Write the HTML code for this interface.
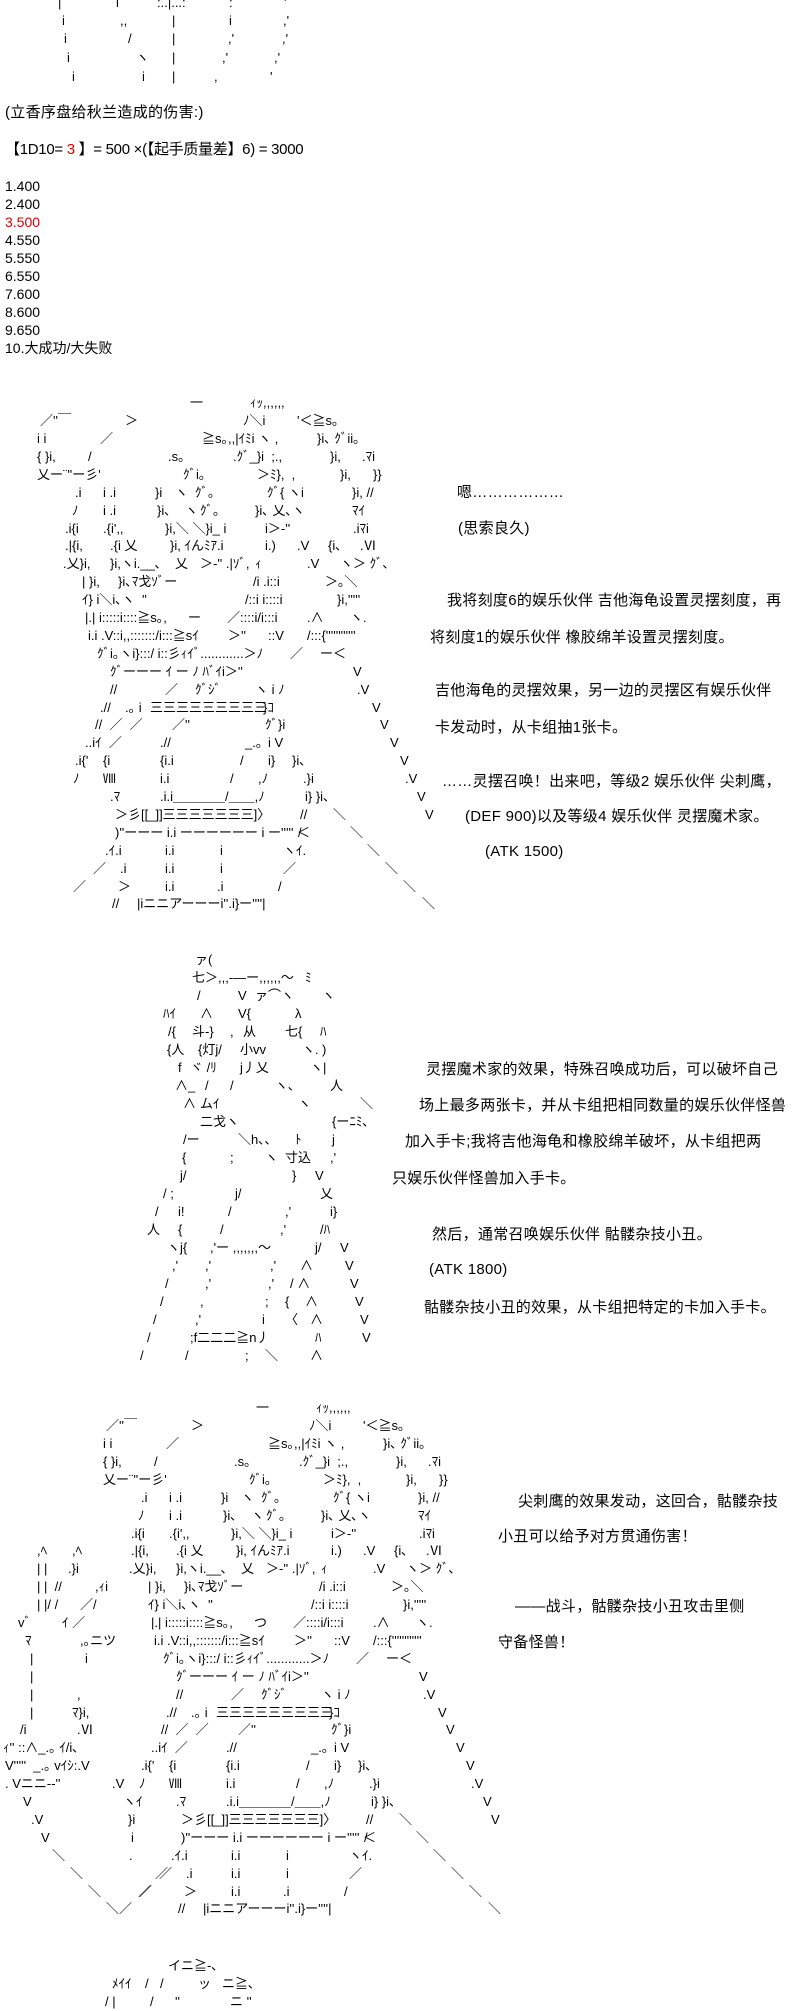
<!DOCTYPE html>
<html><head><meta charset="utf-8">
<style>
html,body{margin:0;padding:0;background:#fff;}
body{width:800px;height:2000px;position:relative;overflow:hidden;color:#000;}
.t{position:absolute;font-family:"Liberation Sans","Noto Sans CJK SC",sans-serif;font-size:15px;line-height:18px;white-space:pre;letter-spacing:0.3px;}
.n{position:absolute;left:5px;font-family:"Liberation Sans","Noto Sans CJK SC",sans-serif;font-size:14px;line-height:18px;white-space:pre;}
.aa{position:absolute;left:0;width:800px;}
.aa div{position:absolute;left:0;height:18px;width:800px;}
.aa span{position:absolute;top:0;white-space:pre;font-family:"Liberation Sans","Noto Sans CJK JP",sans-serif;font-size:13px;line-height:18px;color:#000;}
</style></head><body>

<!-- top AA remnant -->
<div class="aa" style="top:-6px">
<div style="top:0"><span style="left:58px">|</span><span style="left:116px">i</span><span style="left:157px">:..|...:</span><span style="left:229px">:</span><span style="left:284px">'</span></div>
<div style="top:18px"><span style="left:62px">i</span><span style="left:120px">,,</span><span style="left:172px">|</span><span style="left:229px">i</span><span style="left:283px">,'</span></div>
<div style="top:36px"><span style="left:64px">i</span><span style="left:128px">/</span><span style="left:172px">|</span><span style="left:228px">,'</span><span style="left:282px">,'</span></div>
<div style="top:55px"><span style="left:67px">i</span><span style="left:136px">ヽ</span><span style="left:172px">|</span><span style="left:222px">,'</span><span style="left:274px">,'</span></div>
<div style="top:74px"><span style="left:72px">i</span><span style="left:142px">i</span><span style="left:172px">|</span><span style="left:214px">,</span><span style="left:270px">'</span></div>
</div>

<div class="t" style="left:5px;top:104px">(立香序盘给秋兰造成的伤害:)</div>
<div class="t" style="left:5px;top:141px;letter-spacing:-0.3px">【1D10= <span style="color:#d00">3</span> 】= 500 ×(【起手质量差】6) = 3000</div>
<div class="n" style="top:177px">1.400</div>
<div class="n" style="top:195px">2.400</div>
<div class="n" style="top:213px;color:#d00">3.500</div>
<div class="n" style="top:231px">4.550</div>
<div class="n" style="top:249px">5.550</div>
<div class="n" style="top:267px">6.550</div>
<div class="n" style="top:285px">7.600</div>
<div class="n" style="top:303px">8.600</div>
<div class="n" style="top:321px">9.650</div>
<div class="n" style="top:339px">10.大成功/大失败</div>

<!-- Section 1 AA -->
<div class="aa" style="top:394px;left:0">
<div style="top:0px"><span style="left:190px">一</span><span style="left:250px">ｨｯ,,,,,,</span></div>
<div style="top:18px"><span style="left:40px">／''￣</span><span style="left:125px">＞</span><span style="left:243px">ﾉ＼i</span><span style="left:297px">'＜≧s｡</span></div>
<div style="top:36px"><span style="left:37px">i i</span><span style="left:100px">／</span><span style="left:202px">≧s｡,,|ｲﾐi ヽ ,</span><span style="left:317px">}i､ ｸﾞii｡</span></div>
<div style="top:54px"><span style="left:37px">{ }i,</span><span style="left:88px">/</span><span style="left:168px">.s｡</span><span style="left:233px">.ｸﾞ_}i  ;.,</span><span style="left:330px">}i,</span><span style="left:362px">.ﾏi</span></div>
<div style="top:72px"><span style="left:37px">乂ー¨''ー彡'</span><span style="left:183px">ｸﾞi｡</span><span style="left:257px">＞ﾐ},  ,</span><span style="left:340px">}i,</span><span style="left:373px">}}</span></div>
<div style="top:90px"><span style="left:75px">.i</span><span style="left:103px">i .i</span><span style="left:155px">}i</span><span style="left:175px">ヽ</span><span style="left:195px">ｸﾞ｡</span><span style="left:267px">ｸﾞ{ ヽi</span><span style="left:352px">}i, //</span></div>
<div style="top:108px"><span style="left:72px">ﾉ</span><span style="left:103px">i .i</span><span style="left:157px">}i､</span><span style="left:185px">ヽ</span><span style="left:200px">ｸﾞ｡</span><span style="left:255px">}i､ 乂､ヽ</span><span style="left:352px">ﾏｲ</span></div>
<div style="top:126px"><span style="left:65px">.i{i</span><span style="left:103px">.{i',,</span><span style="left:165px">}i,＼ ＼}i_ i</span><span style="left:265px">i＞-''</span><span style="left:353px">.iﾏi</span></div>
<div style="top:143px"><span style="left:65px">.|{i,</span><span style="left:110px">.{i 乂</span><span style="left:170px">}i, ｲんﾐｱ.i</span><span style="left:265px">i.)</span><span style="left:297px">.V</span><span style="left:328px">{i､</span><span style="left:360px">.Ⅵ</span></div>
<div style="top:161px"><span style="left:63px">.乂}i,</span><span style="left:110px">}i,ヽi.__､</span><span style="left:175px">乂</span><span style="left:200px">＞-'' .|ｿﾞ,</span><span style="left:255px">ｨ</span><span style="left:307px">.V</span><span style="left:340px">ヽ＞ ｸﾞ､</span></div>
<div style="top:179px"><span style="left:82px">| }i,</span><span style="left:118px">}i､ﾏ戈ｿﾞー</span><span style="left:253px">/i .i::i</span><span style="left:325px">＞｡＼</span></div>
<div style="top:197px"><span style="left:82px">ｲ} i＼i､ヽ  ''</span><span style="left:245px">/::i i::::i</span><span style="left:337px">}i,'''''</span></div>
<div style="top:215px"><span style="left:85px">|.| i:::::i::::≧s｡,</span><span style="left:188px">ー</span><span style="left:227px">／::::i/i:::i</span><span style="left:307px">.∧</span><span style="left:350px">ヽ.</span></div>
<div style="top:233px"><span style="left:88px">i.i .V::i,,:::::::/i:::≧sｲ</span><span style="left:228px">＞''</span><span style="left:268px">::V</span><span style="left:307px">/:::{''''''''''''</span></div>
<div style="top:251px"><span style="left:97px">ｸﾞi｡ヽi}:::/ i::彡ｨｲﾞ............＞ﾉ</span><span style="left:290px">／</span><span style="left:320px">ー＜</span></div>
<div style="top:269px"><span style="left:110px">ｸﾞーーー ｲ ー ﾉ ﾊﾞｲi＞''</span><span style="left:353px">V</span></div>
<div style="top:287px"><span style="left:110px">//</span><span style="left:165px">／</span><span style="left:195px">ｸﾞｼﾞ</span><span style="left:255px">ヽ i ﾉ</span><span style="left:357px">.V</span></div>
<div style="top:305px"><span style="left:100px">.//</span><span style="left:125px">.｡ i</span><span style="left:150px">三三三三三三三三三</span><span style="left:263px">}ｺ</span><span style="left:372px">V</span></div>
<div style="top:322px"><span style="left:95px">//  ／  ／</span><span style="left:172px">／''</span><span style="left:265px">ｸﾞ}i</span><span style="left:380px">V</span></div>
<div style="top:340px"><span style="left:85px">..iｲ  ／</span><span style="left:160px">.//</span><span style="left:245px">_.｡</span><span style="left:268px">i V</span><span style="left:390px">V</span></div>
<div style="top:358px"><span style="left:75px">.i{'</span><span style="left:103px">{i</span><span style="left:160px">{i.i</span><span style="left:240px">/</span><span style="left:268px">i}</span><span style="left:292px">}i､</span><span style="left:400px">V</span></div>
<div style="top:376px"><span style="left:73px">ﾉ</span><span style="left:103px">Ⅷ</span><span style="left:160px">i.i</span><span style="left:230px">/</span><span style="left:258px">,ﾉ</span><span style="left:303px">.}i</span><span style="left:405px">.V</span></div>
<div style="top:394px"><span style="left:110px">.ﾏ</span><span style="left:160px">.i.i＿＿＿＿/＿＿,ﾉ</span><span style="left:305px">i} }i､</span><span style="left:417px">V</span></div>
<div style="top:412px"><span style="left:115px">＞彡[[_]]三三三三三三三]〉</span><span style="left:300px">//</span><span style="left:333px">＼</span><span style="left:425px">V</span></div>
<div style="top:430px"><span style="left:115px">)''ーーー i.i ーーーーーー i ー''''' ＜</span><span style="left:298px">/</span><span style="left:350px">＼</span></div>
<div style="top:448px"><span style="left:105px">.ｲ.i</span><span style="left:165px">i.i</span><span style="left:220px">i</span><span style="left:283px">ヽｲ.</span><span style="left:367px">＼</span></div>
<div style="top:466px"><span style="left:93px">／</span><span style="left:120px">.i</span><span style="left:165px">i.i</span><span style="left:220px">i</span><span style="left:283px">／</span><span style="left:385px">＼</span></div>
<div style="top:484px"><span style="left:73px">／</span><span style="left:118px">＞</span><span style="left:165px">i.i</span><span style="left:217px">.i</span><span style="left:278px">/</span><span style="left:403px">＼</span></div>
<div style="top:501px"><span style="left:112px">//</span><span style="left:137px">|iニニアーーーi''.i}ー''''|</span><span style="left:422px">＼</span></div>
</div>

<div class="t" style="left:457px;top:484px">嗯………………</div>
<div class="t" style="left:458px;top:520px">(思索良久)</div>
<div class="t" style="left:447px;top:592px">我将刻度6的娱乐伙伴 吉他海龟设置灵摆刻度，再</div>
<div class="t" style="left:430px;top:629px">将刻度1的娱乐伙伴 橡胶绵羊设置灵摆刻度。</div>
<div class="t" style="left:435px;top:682px">吉他海龟的灵摆效果，另一边的灵摆区有娱乐伙伴</div>
<div class="t" style="left:435px;top:719px">卡发动时，从卡组抽1张卡。</div>
<div class="t" style="left:442px;top:773px">……灵摆召唤！出来吧，等级2 娱乐伙伴 尖刺鹰，</div>
<div class="t" style="left:465px;top:808px">(DEF 900)以及等级4 娱乐伙伴 灵摆魔术家。</div>
<div class="t" style="left:485px;top:843px">(ATK 1500)</div>

<!-- Section 2 AA -->
<div class="aa" style="top:951px">
<div style="top:0"><span style="left:195px">ァ(</span></div>
<div style="top:18px"><span style="left:192px">七＞,,,-―ー,,,,,,～</span><span style="left:305px">ﾐ</span></div>
<div style="top:36px"><span style="left:197px">/</span><span style="left:238px">V</span><span style="left:255px">ァ⌒ヽ</span><span style="left:322px">ヽ</span></div>
<div style="top:54px"><span style="left:163px">ﾊｲ</span><span style="left:200px">∧</span><span style="left:238px">V{</span><span style="left:295px">λ</span></div>
<div style="top:72px"><span style="left:168px">/{</span><span style="left:192px">斗-}</span><span style="left:230px">,</span><span style="left:243px">从</span><span style="left:285px">七{</span><span style="left:320px">ﾊ</span></div>
<div style="top:90px"><span style="left:167px">{人</span><span style="left:198px">{灯j/</span><span style="left:240px">小vv</span><span style="left:302px">ヽ.</span><span style="left:322px">)</span></div>
<div style="top:108px"><span style="left:178px">f</span><span style="left:190px">ヾ /ﾘ</span><span style="left:240px">j丿乂</span><span style="left:310px">ヽ|</span></div>
<div style="top:126px"><span style="left:175px">∧_</span><span style="left:205px">/</span><span style="left:230px">/</span><span style="left:275px">ヽ､</span><span style="left:330px">人</span></div>
<div style="top:144px"><span style="left:183px">∧</span><span style="left:200px">ムｲ</span><span style="left:298px">ヽ</span><span style="left:360px">＼</span></div>
<div style="top:162px"><span style="left:200px">二戈ヽ</span><span style="left:332px">{ーﾆﾐ､</span></div>
<div style="top:180px"><span style="left:183px">/ー</span><span style="left:238px">＼h､､</span><span style="left:295px">ﾄ</span><span style="left:332px">j</span></div>
<div style="top:198px"><span style="left:182px">{</span><span style="left:230px">;</span><span style="left:265px">ヽ</span><span style="left:285px">寸込</span><span style="left:330px">,'</span></div>
<div style="top:216px"><span style="left:180px">j/</span><span style="left:292px">}</span><span style="left:315px">V</span></div>
<div style="top:234px"><span style="left:163px">/ ;</span><span style="left:235px">j/</span><span style="left:320px">乂</span></div>
<div style="top:252px"><span style="left:155px">/</span><span style="left:178px">i!</span><span style="left:228px">/</span><span style="left:285px">,'</span><span style="left:330px">i}</span></div>
<div style="top:270px"><span style="left:147px">人</span><span style="left:178px">{</span><span style="left:220px">/</span><span style="left:280px">,'</span><span style="left:320px">/ﾊ</span></div>
<div style="top:288px"><span style="left:167px">ヽj{</span><span style="left:210px">,'ー ,,,,,,,～</span><span style="left:315px">j/</span><span style="left:340px">V</span></div>
<div style="top:306px"><span style="left:172px">,'</span><span style="left:205px">,'</span><span style="left:270px">,'</span><span style="left:300px">∧</span><span style="left:345px">V</span></div>
<div style="top:324px"><span style="left:165px">/</span><span style="left:205px">,'</span><span style="left:268px">,'</span><span style="left:290px">/ ∧</span><span style="left:350px">V</span></div>
<div style="top:342px"><span style="left:160px">/</span><span style="left:200px">,</span><span style="left:265px">;</span><span style="left:285px">{</span><span style="left:305px">∧</span><span style="left:355px">V</span></div>
<div style="top:360px"><span style="left:153px">/</span><span style="left:195px">,'</span><span style="left:262px">i</span><span style="left:285px">〈</span><span style="left:310px">∧</span><span style="left:360px">V</span></div>
<div style="top:378px"><span style="left:147px">/</span><span style="left:190px">;f二二二≧n丿</span><span style="left:315px">ﾊ</span><span style="left:362px">V</span></div>
<div style="top:396px"><span style="left:140px">/</span><span style="left:185px">/</span><span style="left:245px">;</span><span style="left:265px">＼</span><span style="left:310px">∧</span></div>
</div>

<div class="t" style="left:426px;top:1061px">灵摆魔术家的效果，特殊召唤成功后，可以破坏自己</div>
<div class="t" style="left:419px;top:1097px">场上最多两张卡，并从卡组把相同数量的娱乐伙伴怪兽</div>
<div class="t" style="left:405px;top:1133px">加入手卡;我将吉他海龟和橡胶绵羊破坏，从卡组把两</div>
<div class="t" style="left:392px;top:1170px">只娱乐伙伴怪兽加入手卡。</div>
<div class="t" style="left:432px;top:1226px">然后，通常召唤娱乐伙伴 骷髅杂技小丑。</div>
<div class="t" style="left:429px;top:1261px">(ATK 1800)</div>
<div class="t" style="left:424px;top:1299px">骷髅杂技小丑的效果，从卡组把特定的卡加入手卡。</div>

<!-- Section 3 AA (figure) -->
<div class="aa" style="top:1399px;left:66px">
<div style="top:0px"><span style="left:190px">一</span><span style="left:250px">ｨｯ,,,,,,</span></div>
<div style="top:18px"><span style="left:40px">／''￣</span><span style="left:125px">＞</span><span style="left:243px">ﾉ＼i</span><span style="left:297px">'＜≧s｡</span></div>
<div style="top:36px"><span style="left:37px">i i</span><span style="left:100px">／</span><span style="left:202px">≧s｡,,|ｲﾐi ヽ ,</span><span style="left:317px">}i､ ｸﾞii｡</span></div>
<div style="top:54px"><span style="left:37px">{ }i,</span><span style="left:88px">/</span><span style="left:168px">.s｡</span><span style="left:233px">.ｸﾞ_}i  ;.,</span><span style="left:330px">}i,</span><span style="left:362px">.ﾏi</span></div>
<div style="top:72px"><span style="left:37px">乂ー¨''ー彡'</span><span style="left:183px">ｸﾞi｡</span><span style="left:257px">＞ﾐ},  ,</span><span style="left:340px">}i,</span><span style="left:373px">}}</span></div>
<div style="top:90px"><span style="left:75px">.i</span><span style="left:103px">i .i</span><span style="left:155px">}i</span><span style="left:175px">ヽ</span><span style="left:195px">ｸﾞ｡</span><span style="left:267px">ｸﾞ{ ヽi</span><span style="left:352px">}i, //</span></div>
<div style="top:108px"><span style="left:72px">ﾉ</span><span style="left:103px">i .i</span><span style="left:157px">}i､</span><span style="left:185px">ヽ</span><span style="left:200px">ｸﾞ｡</span><span style="left:255px">}i､ 乂､ヽ</span><span style="left:352px">ﾏｲ</span></div>
<div style="top:126px"><span style="left:65px">.i{i</span><span style="left:103px">.{i',,</span><span style="left:165px">}i,＼ ＼}i_ i</span><span style="left:265px">i＞-''</span><span style="left:353px">.iﾏi</span></div>
<div style="top:143px"><span style="left:65px">.|{i,</span><span style="left:110px">.{i 乂</span><span style="left:170px">}i, ｲんﾐｱ.i</span><span style="left:265px">i.)</span><span style="left:297px">.V</span><span style="left:328px">{i､</span><span style="left:360px">.Ⅵ</span></div>
<div style="top:161px"><span style="left:63px">.乂}i,</span><span style="left:110px">}i,ヽi.__､</span><span style="left:175px">乂</span><span style="left:200px">＞-'' .|ｿﾞ,</span><span style="left:255px">ｨ</span><span style="left:307px">.V</span><span style="left:340px">ヽ＞ ｸﾞ､</span></div>
<div style="top:179px"><span style="left:82px">| }i,</span><span style="left:118px">}i､ﾏ戈ｿﾞー</span><span style="left:253px">/i .i::i</span><span style="left:325px">＞｡＼</span></div>
<div style="top:197px"><span style="left:82px">ｲ} i＼i､ヽ  ''</span><span style="left:245px">/::i i::::i</span><span style="left:337px">}i,'''''</span></div>
<div style="top:215px"><span style="left:85px">|.| i:::::i::::≧s｡,</span><span style="left:188px">つ</span><span style="left:227px">／::::i/i:::i</span><span style="left:307px">.∧</span><span style="left:350px">ヽ.</span></div>
<div style="top:233px"><span style="left:88px">i.i .V::i,,:::::::/i:::≧sｲ</span><span style="left:228px">＞''</span><span style="left:268px">::V</span><span style="left:307px">/:::{''''''''''''</span></div>
<div style="top:251px"><span style="left:97px">ｸﾞi｡ヽi}:::/ i::彡ｨｲﾞ............＞ﾉ</span><span style="left:290px">／</span><span style="left:320px">ー＜</span></div>
<div style="top:269px"><span style="left:110px">ｸﾞーーー ｲ ー ﾉ ﾊﾞｲi＞''</span><span style="left:353px">V</span></div>
<div style="top:287px"><span style="left:110px">//</span><span style="left:165px">／</span><span style="left:195px">ｸﾞｼﾞ</span><span style="left:255px">ヽ i ﾉ</span><span style="left:357px">.V</span></div>
<div style="top:305px"><span style="left:100px">.//</span><span style="left:125px">.｡ i</span><span style="left:150px">三三三三三三三三三</span><span style="left:263px">}ｺ</span><span style="left:372px">V</span></div>
<div style="top:322px"><span style="left:95px">//  ／  ／</span><span style="left:172px">／''</span><span style="left:265px">ｸﾞ}i</span><span style="left:380px">V</span></div>
<div style="top:340px"><span style="left:85px">..iｲ  ／</span><span style="left:160px">.//</span><span style="left:245px">_.｡</span><span style="left:268px">i V</span><span style="left:390px">V</span></div>
<div style="top:358px"><span style="left:75px">.i{'</span><span style="left:103px">{i</span><span style="left:160px">{i.i</span><span style="left:240px">/</span><span style="left:268px">i}</span><span style="left:292px">}i､</span><span style="left:400px">V</span></div>
<div style="top:376px"><span style="left:73px">ﾉ</span><span style="left:103px">Ⅷ</span><span style="left:160px">i.i</span><span style="left:230px">/</span><span style="left:258px">,ﾉ</span><span style="left:303px">.}i</span><span style="left:405px">.V</span></div>
<div style="top:394px"><span style="left:110px">.ﾏ</span><span style="left:160px">.i.i＿＿＿＿/＿＿,ﾉ</span><span style="left:305px">i} }i､</span><span style="left:417px">V</span></div>
<div style="top:412px"><span style="left:115px">＞彡[[_]]三三三三三三三]〉</span><span style="left:300px">//</span><span style="left:333px">＼</span><span style="left:425px">V</span></div>
<div style="top:430px"><span style="left:115px">)''ーーー i.i ーーーーーー i ー''''' ＜</span><span style="left:298px">/</span><span style="left:350px">＼</span></div>
<div style="top:448px"><span style="left:105px">.ｲ.i</span><span style="left:165px">i.i</span><span style="left:220px">i</span><span style="left:283px">ヽｲ.</span><span style="left:367px">＼</span></div>
<div style="top:466px"><span style="left:93px">／</span><span style="left:120px">.i</span><span style="left:165px">i.i</span><span style="left:220px">i</span><span style="left:283px">／</span><span style="left:385px">＼</span></div>
<div style="top:484px"><span style="left:73px">／</span><span style="left:118px">＞</span><span style="left:165px">i.i</span><span style="left:217px">.i</span><span style="left:278px">/</span><span style="left:403px">＼</span></div>
<div style="top:501px"><span style="left:112px">//</span><span style="left:137px">|iニニアーーーi''.i}ー''''|</span><span style="left:422px">＼</span></div>
</div>

<!-- Section 3 left arm -->
<div class="aa" style="top:1399px">
<div style="top:143px"><span style="left:37px">,ﾍ</span><span style="left:72px">,ﾍ</span></div>
<div style="top:161px"><span style="left:37px">| |</span><span style="left:68px">.}i</span></div>
<div style="top:179px"><span style="left:37px">| |  //</span><span style="left:95px">,ｨi</span></div>
<div style="top:197px"><span style="left:37px">| |/ /</span><span style="left:80px">／/</span></div>
<div style="top:215px"><span style="left:18px">vﾞ</span><span style="left:62px">ｲ ／</span></div>
<div style="top:233px"><span style="left:25px">ﾏ</span><span style="left:80px">,｡ニツ</span></div>
<div style="top:251px"><span style="left:30px">|</span><span style="left:85px">i</span></div>
<div style="top:269px"><span style="left:30px">|</span></div>
<div style="top:287px"><span style="left:30px">|</span><span style="left:77px">,</span></div>
<div style="top:305px"><span style="left:30px">|</span><span style="left:72px">ﾏ}i,</span></div>
<div style="top:322px"><span style="left:20px">/i</span><span style="left:77px">.Ⅵ</span></div>
<div style="top:340px"><span style="left:3px">ｨ'' ::∧_.｡ ｲ/i､</span></div>
<div style="top:358px"><span style="left:5px">V'''''  _.｡ vｲｼ:.V</span></div>
<div style="top:376px"><span style="left:5px">. Vニニ--''</span><span style="left:112px">.V</span></div>
<div style="top:394px"><span style="left:23px">V</span><span style="left:123px">ヽｲ</span></div>
<div style="top:412px"><span style="left:31px">.V</span><span style="left:128px">}i</span></div>
<div style="top:430px"><span style="left:41px">V</span><span style="left:131px">i</span></div>
<div style="top:448px"><span style="left:52px">＼</span><span style="left:129px">.</span></div>
<div style="top:466px"><span style="left:70px">＼</span><span style="left:155px">／</span></div>
<div style="top:484px"><span style="left:88px">＼</span><span style="left:138px">／</span></div>
<div style="top:501px"><span style="left:106px">＼／</span></div>
</div>

<div class="t" style="left:518px;top:1493px">尖刺鹰的效果发动，这回合，骷髅杂技</div>
<div class="t" style="left:498px;top:1528px">小丑可以给予对方贯通伤害！</div>
<div class="t" style="left:515px;top:1598px">——战斗，骷髅杂技小丑攻击里侧</div>
<div class="t" style="left:498px;top:1634px">守备怪兽！</div>

<!-- Section 4 partial -->
<div class="aa" style="top:1957px">
<div style="top:0"><span style="left:168px">イニ≧-､</span></div>
<div style="top:18px"><span style="left:112px">ﾒｲｲ</span><span style="left:145px">/</span><span style="left:160px">/</span><span style="left:198px">ッ</span><span style="left:222px">ニ≧､</span></div>
<div style="top:36px"><span style="left:105px">/ |</span><span style="left:150px">/</span><span style="left:175px">''</span><span style="left:230px">ニ ''</span></div>
</div>

</body></html>
